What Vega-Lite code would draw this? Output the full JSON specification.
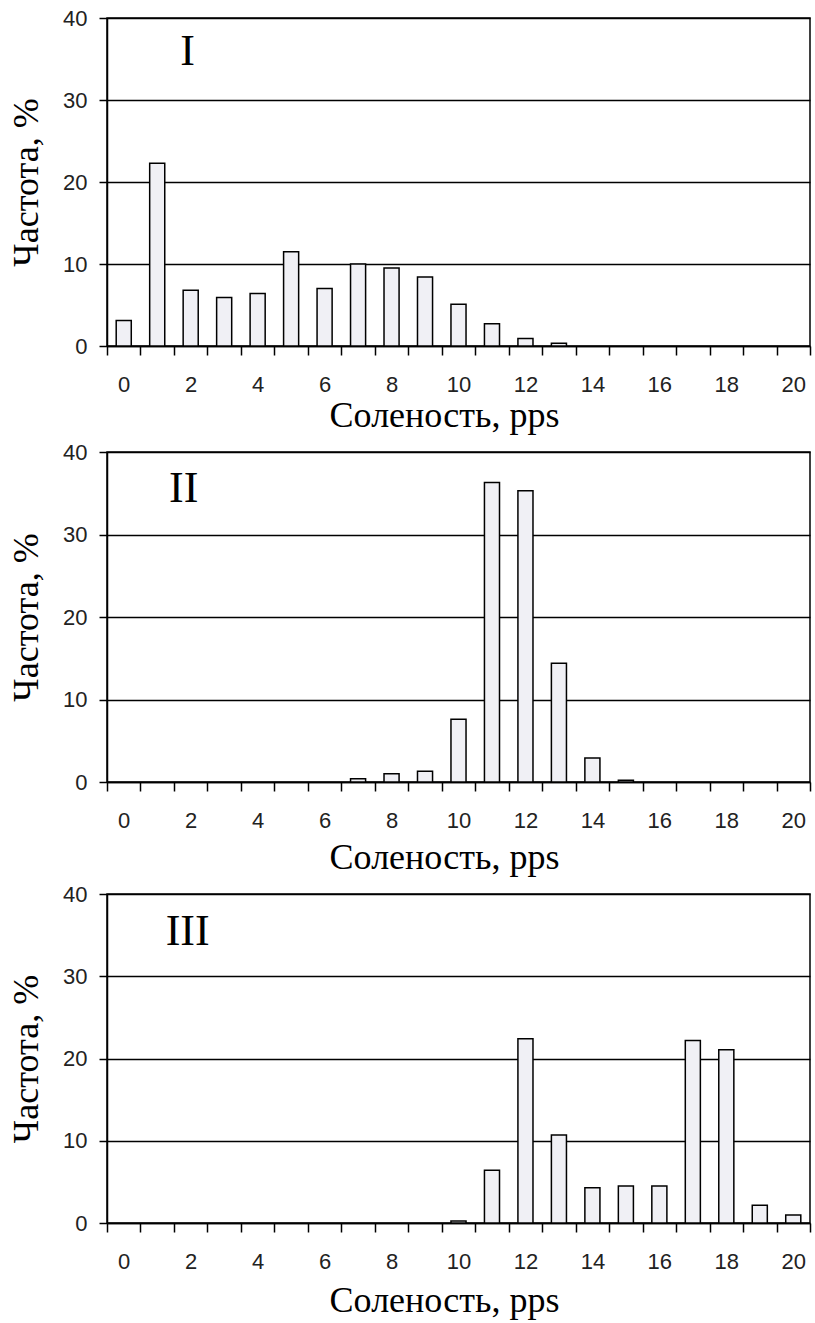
{
  "$schema": "https://vega.github.io/schema/vega-lite/v6.json",
  "background": "white",
  "padding": {"left": 7, "top": 6, "right": 2, "bottom": 2},
  "columns": 1,
  "align": "none",
  "spacing": 6,
  "datasets": {
    "bars": [
      {"panel": "I", "s": 0, "f": 3.1},
      {"panel": "I", "s": 1, "f": 22.3},
      {"panel": "I", "s": 2, "f": 6.8},
      {"panel": "I", "s": 3, "f": 5.9},
      {"panel": "I", "s": 4, "f": 6.4},
      {"panel": "I", "s": 5, "f": 11.5},
      {"panel": "I", "s": 6, "f": 7.0},
      {"panel": "I", "s": 7, "f": 10.0},
      {"panel": "I", "s": 8, "f": 9.5},
      {"panel": "I", "s": 9, "f": 8.4},
      {"panel": "I", "s": 10, "f": 5.1},
      {"panel": "I", "s": 11, "f": 2.7},
      {"panel": "I", "s": 12, "f": 0.9},
      {"panel": "I", "s": 13, "f": 0.35},
      {"panel": "II", "s": 7, "f": 0.4},
      {"panel": "II", "s": 8, "f": 1.0},
      {"panel": "II", "s": 9, "f": 1.3},
      {"panel": "II", "s": 10, "f": 7.6},
      {"panel": "II", "s": 11, "f": 36.3},
      {"panel": "II", "s": 12, "f": 35.3},
      {"panel": "II", "s": 13, "f": 14.4},
      {"panel": "II", "s": 14, "f": 2.9},
      {"panel": "II", "s": 15, "f": 0.2},
      {"panel": "III", "s": 10, "f": 0.25},
      {"panel": "III", "s": 11, "f": 6.4},
      {"panel": "III", "s": 12, "f": 22.4},
      {"panel": "III", "s": 13, "f": 10.7},
      {"panel": "III", "s": 14, "f": 4.3},
      {"panel": "III", "s": 15, "f": 4.5},
      {"panel": "III", "s": 16, "f": 4.5},
      {"panel": "III", "s": 17, "f": 22.2},
      {"panel": "III", "s": 18, "f": 21.05},
      {"panel": "III", "s": 19, "f": 2.15},
      {"panel": "III", "s": 20, "f": 0.97}
    ],
    "names": [
      {"panel": "I", "s": 2, "f": 36.1, "label": "I"},
      {"panel": "II", "s": 2, "f": 35.8, "label": "II"},
      {"panel": "III", "s": 2, "f": 35.6, "label": "III"}
    ]
  },
  "concat": [
    {
      "width": 703,
      "height": 328,
      "layer": [
        {
          "data": {"name": "bars"},
          "transform": [{"filter": "datum.panel === 'I'"}],
          "mark": {"type": "bar", "width": {"band": 0.45}, "fill": "#f0f0f5", "stroke": "black", "strokeWidth": 1.5},
          "encoding": {
            "x": {"field": "s", "type": "ordinal", "scale": {"domain": [0,1,2,3,4,5,6,7,8,9,10,11,12,13,14,15,16,17,18,19,20], "paddingInner": 0, "paddingOuter": 0},
                  "axis": {"title": "Соленость, pps", "labelAngle": 0, "tickBand": "extent", "tickSize": 9, "labelPadding": 19, "labelOverlap": false, "labelExpr": "datum.value % 2 == 0 ? datum.label : ''", "grid": false, "titlePadding": 3, "titleX": 337}},
            "y": {"field": "f", "type": "quantitative", "scale": {"domain": [0, 40], "nice": false},
                  "axis": {"title": "Частота, %", "values": [0, 10, 20, 30, 40], "tickSize": 8, "labelPadding": 12, "grid": true, "titlePadding": 17}}
          }
        },
        {
          "data": {"name": "names"},
          "transform": [{"filter": "datum.panel === 'I'"}],
          "mark": {"type": "text", "font": "Liberation Serif", "fontSize": 44, "baseline": "middle", "align": "center", "dx": -3, "dy": 2},
          "encoding": {
            "x": {"field": "s", "type": "ordinal"},
            "y": {"field": "f", "type": "quantitative"},
            "text": {"field": "label"}
          }
        }
      ]
    },
    {
      "width": 703,
      "height": 330,
      "layer": [
        {
          "data": {"name": "bars"},
          "transform": [{"filter": "datum.panel === 'II'"}],
          "mark": {"type": "bar", "width": {"band": 0.45}, "fill": "#f0f0f5", "stroke": "black", "strokeWidth": 1.5},
          "encoding": {
            "x": {"field": "s", "type": "ordinal", "scale": {"domain": [0,1,2,3,4,5,6,7,8,9,10,11,12,13,14,15,16,17,18,19,20], "paddingInner": 0, "paddingOuter": 0},
                  "axis": {"title": "Соленость, pps", "labelAngle": 0, "tickBand": "extent", "tickSize": 9, "labelPadding": 19, "labelOverlap": false, "labelExpr": "datum.value % 2 == 0 ? datum.label : ''", "grid": false, "titlePadding": 9, "titleX": 337}},
            "y": {"field": "f", "type": "quantitative", "scale": {"domain": [0, 40], "nice": false},
                  "axis": {"title": "Частота, %", "values": [0, 10, 20, 30, 40], "tickSize": 8, "labelPadding": 12, "grid": true, "titlePadding": 17}}
          }
        },
        {
          "data": {"name": "names"},
          "transform": [{"filter": "datum.panel === 'II'"}],
          "mark": {"type": "text", "font": "Liberation Serif", "fontSize": 44, "baseline": "middle", "align": "center", "dx": -7, "dy": 2},
          "encoding": {
            "x": {"field": "s", "type": "ordinal"},
            "y": {"field": "f", "type": "quantitative"},
            "text": {"field": "label"}
          }
        }
      ]
    },
    {
      "width": 703,
      "height": 329,
      "layer": [
        {
          "data": {"name": "bars"},
          "transform": [{"filter": "datum.panel === 'III'"}],
          "mark": {"type": "bar", "width": {"band": 0.45}, "fill": "#f0f0f5", "stroke": "black", "strokeWidth": 1.5},
          "encoding": {
            "x": {"field": "s", "type": "ordinal", "scale": {"domain": [0,1,2,3,4,5,6,7,8,9,10,11,12,13,14,15,16,17,18,19,20], "paddingInner": 0, "paddingOuter": 0},
                  "axis": {"title": "Соленость, pps", "labelAngle": 0, "tickBand": "extent", "tickSize": 9, "labelPadding": 19, "labelOverlap": false, "labelExpr": "datum.value % 2 == 0 ? datum.label : ''", "grid": false, "titlePadding": 11, "titleX": 337}},
            "y": {"field": "f", "type": "quantitative", "scale": {"domain": [0, 40], "nice": false},
                  "axis": {"title": "Частота, %", "values": [0, 10, 20, 30, 40], "tickSize": 8, "labelPadding": 12, "grid": true, "titlePadding": 17}}
          }
        },
        {
          "data": {"name": "names"},
          "transform": [{"filter": "datum.panel === 'III'"}],
          "mark": {"type": "text", "font": "Liberation Serif", "fontSize": 44, "baseline": "middle", "align": "center", "dx": -3, "dy": 2},
          "encoding": {
            "x": {"field": "s", "type": "ordinal"},
            "y": {"field": "f", "type": "quantitative"},
            "text": {"field": "label"}
          }
        }
      ]
    }
  ],
  "config": {
    "view": {"stroke": "black", "strokeWidth": 1.5},
    "axis": {
      "domainColor": "black", "domainWidth": 1.5,
      "tickColor": "black", "tickWidth": 1.5,
      "gridColor": "black", "gridWidth": 1.5, "gridOpacity": 1,
      "labelFont": "Liberation Sans", "labelFontSize": 22, "labelColor": "#222",
      "titleFont": "Liberation Serif", "titleFontSize": 36, "titleFontWeight": "normal", "titleColor": "black"
    }
  }
}
